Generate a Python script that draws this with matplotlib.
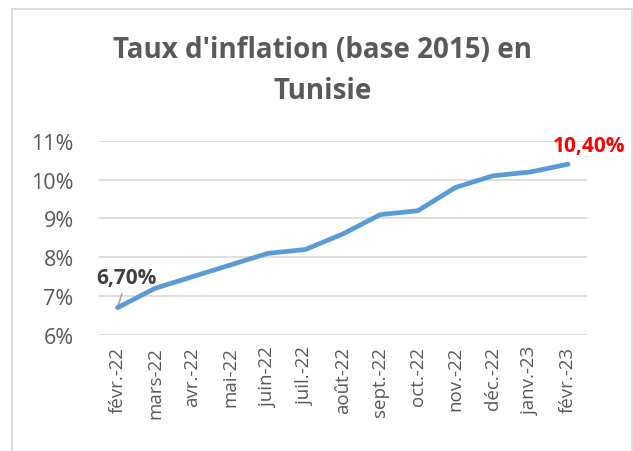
import matplotlib.pyplot as plt
from matplotlib.patches import Rectangle

plt.rcParams['font.family'] = ['Open Sans', 'DejaVu Sans']

# data
months = ['févr.-22', 'mars-22', 'avr.-22', 'mai-22', 'juin-22', 'juil.-22',
          'août-22', 'sept.-22', 'oct.-22', 'nov.-22', 'déc.-22', 'janv.-23',
          'févr.-23']
inflation = [6.7, 7.2, 7.5, 7.8, 8.1, 8.2, 8.6, 9.1, 9.2, 9.8, 10.1, 10.2, 10.4]
yticks = [6, 7, 8, 9, 10, 11]

grey = '#595959'

fig = plt.figure(figsize=(6.33, 4.52), dpi=100)
ax = fig.add_axes([0.156, 0.257, 0.771, 0.429])

x = list(range(len(months)))
ax.plot(x, inflation, color='#5B9BD5', lw=3.4, solid_capstyle='round', zorder=3)

ax.set_xlim(-0.5, len(months) - 0.5)
ax.set_ylim(6, 11)
ax.set_yticks(yticks)
ax.set_yticklabels([f'{v}%' for v in yticks], fontsize=15.5, color=grey)
ax.set_xticks(x)
ax.set_xticklabels(months, rotation=90, fontsize=13.5, color=grey)
ax.tick_params(axis='y', length=0, pad=18)
ax.tick_params(axis='x', length=0, pad=8)
ax.yaxis.grid(True, color='#D9D9D9', lw=1.2)
ax.set_axisbelow(True)
for s in ax.spines.values():
    s.set_visible(False)

# labels on first and last point
ax.annotate('6,70%', xy=(x[0], inflation[0]), xytext=(x[0] + 0.25, inflation[0] + 0.77),
            fontsize=15, fontweight='bold', color='#404040', ha='center', va='center',
            arrowprops=dict(arrowstyle='-', color='#A6A6A6', lw=1.2, shrinkA=2, shrinkB=1),
            zorder=2)
ax.annotate('10,40%', xy=(x[-1], inflation[-1]), xytext=(x[-1] + 0.56, inflation[-1] + 0.47),
            fontsize=15, fontweight='bold', color='#FF0000', ha='center', va='center')

fig.text(0.509, 0.843, "Taux d'inflation (base 2015) en\nTunisie", ha='center', va='center',
         fontsize=20, fontweight='bold', color=grey, linespacing=1.55)

fig.patches.append(Rectangle((12 / 633, -0.05), 620 / 633, 1 - 10 / 452 + 0.05,
                             transform=fig.transFigure, fill=False, ec='#D9D9D9', lw=1.2))

fig.savefig('out.png', dpi=100)
